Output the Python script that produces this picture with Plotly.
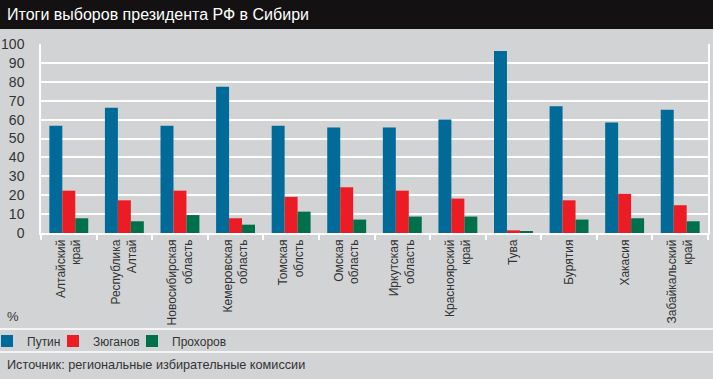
import plotly.graph_objects as go

regions = ["Алтайский<br>край", "Республика<br>Алтай", "Новосибирская<br>область",
           "Кемеровская<br>область", "Томская<br>облсть", "Омская<br>область",
           "Иркутская<br>область", "Красноярский<br>край", "Тува", "Бурятия",
           "Хакасия", "Забайкальский<br>край"]
putin = [56.7, 66.3, 56.7, 77.4, 56.7, 55.8, 55.8, 60.1, 96.3, 67.0, 58.5, 65.2]
zyuganov = [22.4, 17.3, 22.4, 7.8, 19.1, 24.2, 22.4, 18.2, 1.4, 17.3, 20.7, 14.7]
prokhorov = [7.8, 6.2, 9.5, 4.4, 11.3, 7.1, 8.7, 8.7, 0.9, 7.1, 7.8, 6.2]
y_ticks = list(range(0, 101, 10))

W, H = 713, 379
L, R, T, B = 41, 5, 44, 146
FONT = "Liberation Sans, Arial, sans-serif"
BG = "#d2d3d5"
TXT = "#333333"

def px(x):
    return (x - L) / (W - L - R)

def py(y):
    return (H - B - y) / (H - T - B)

fig = go.Figure()
fig.add_bar(x=regions, y=putin, name="Путин", marker_color="#006b98",
            marker_line_width=0, legendwidth=21)
fig.add_bar(x=regions, y=zyuganov, name="Зюганов", marker_color="#ec1c24",
            marker_line_width=0, legendwidth=34)
fig.add_bar(x=regions, y=prokhorov, name="Прохоров", marker_color="#00704a",
            marker_line_width=0, legendwidth=60)

shapes = [
    dict(type="rect", xref="paper", yref="paper", x0=px(0), x1=px(W), y0=py(29), y1=py(0),
         fillcolor="#141112", line_width=0, layer="above"),
    dict(type="line", xref="paper", yref="paper", x0=px(0), x1=px(W), y0=py(329), y1=py(329),
         line=dict(color="white", width=1.5)),
    dict(type="line", xref="paper", yref="paper", x0=px(0), x1=px(W), y0=py(352), y1=py(352),
         line=dict(color="white", width=1.5)),
]

annotations = [
    dict(text="Итоги выборов президента РФ в Сибири", xref="paper", yref="paper",
         x=px(5), y=py(15), xanchor="left", yanchor="middle", showarrow=False,
         font=dict(family=FONT, size=16, color="white")),
    dict(text="%", xref="paper", yref="paper", x=px(5), y=py(316), xanchor="left",
         yanchor="middle", showarrow=False, font=dict(family=FONT, size=13, color=TXT)),
    dict(text="Источник: региональные избирательные комиссии", xref="paper", yref="paper",
         x=px(5), y=py(365), xanchor="left", yanchor="middle", showarrow=False,
         font=dict(family=FONT, size=12.7, color=TXT)),
]

fig.update_layout(
    width=W, height=H,
    margin=dict(l=L, r=R, t=T, b=B, pad=0, autoexpand=False),
    paper_bgcolor=BG, plot_bgcolor=BG,
    barmode="group", bargap=0.3, bargroupgap=0,
    font=dict(family=FONT, color=TXT),
    shapes=shapes, annotations=annotations,
    legend=dict(orientation="h", x=px(-13), y=py(341), xanchor="left", yanchor="middle",
                font=dict(family=FONT, size=12, color=TXT), bgcolor="rgba(0,0,0,0)",
                itemwidth=30, tracegroupgap=0),
    xaxis=dict(tickangle=-90, tickfont=dict(family=FONT, size=12, color=TXT),
               ticks="outside", tickson="boundaries", ticklen=5, tickcolor="white",
               tickwidth=1.5, showline=True, linecolor="white", linewidth=1.5,
               showgrid=False, fixedrange=True, automargin=False),
    yaxis=dict(range=[0, 100], tickvals=y_ticks, tickfont=dict(family=FONT, size=14, color=TXT),
               showgrid=True, gridcolor="white", gridwidth=1.5, showline=True, mirror=True,
               linecolor="white", linewidth=1.5, zeroline=False, ticks="", ticklabelstandoff=12,
               fixedrange=True, automargin=False),
)

fig.write_html("out.html", config={"displayModeBar": False},
               post_script="document.body.style.margin='0';document.body.style.padding='0';")
